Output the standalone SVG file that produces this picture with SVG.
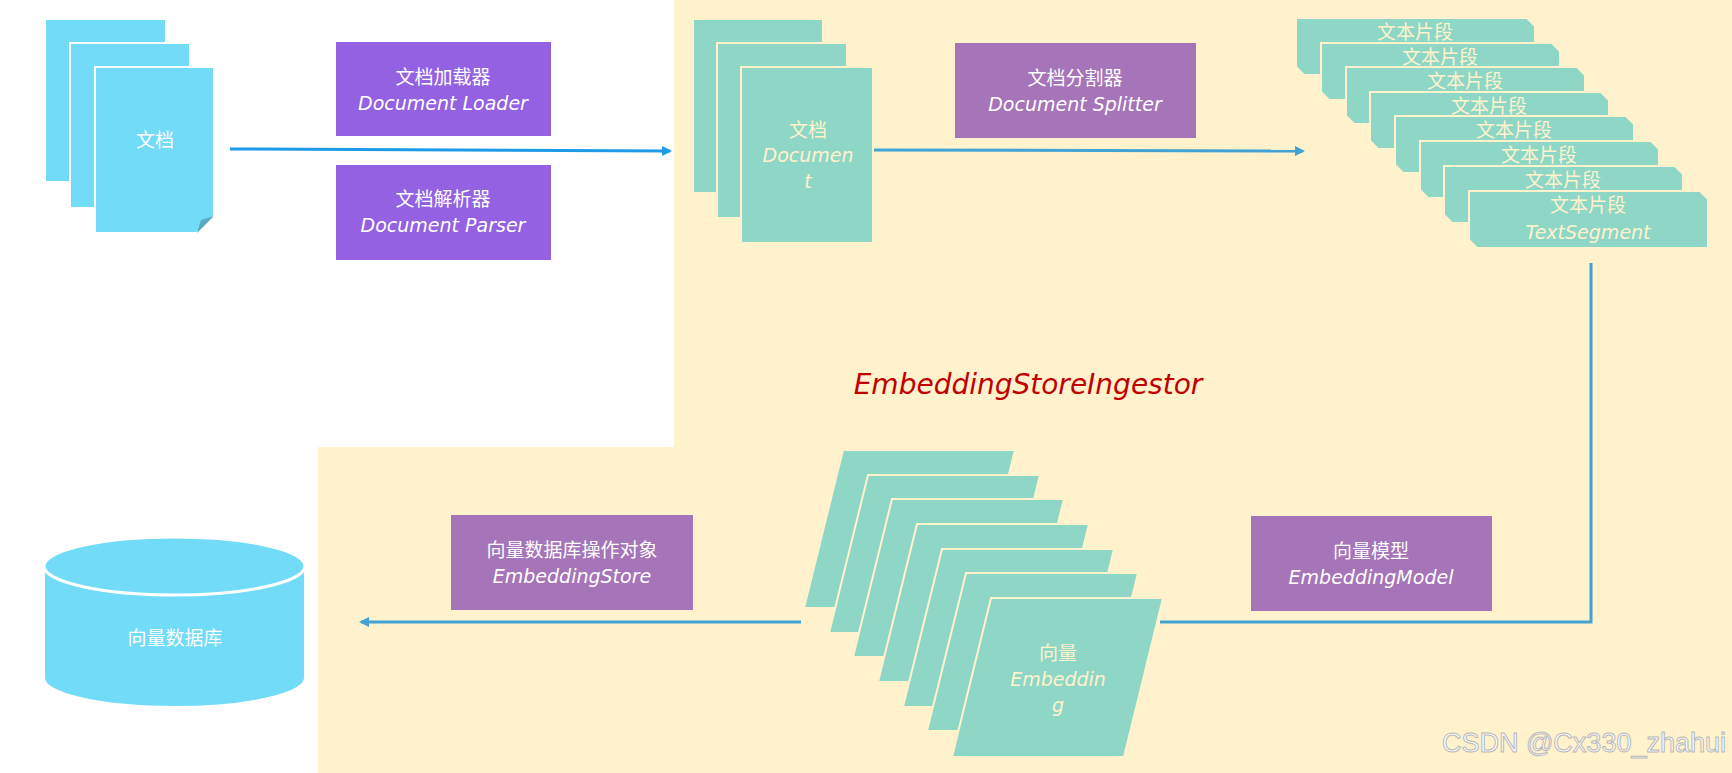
<svg xmlns="http://www.w3.org/2000/svg" width="1732" height="773" viewBox="0 0 1732 773">
<style>
.cy{fill:#72DBF8}
.tl{fill:#8ED7C7;stroke:#FFF2CC;stroke-width:2}
.pu{fill:#9461E3}
.mv{fill:#A674B8}
.zh{font-family:"Noto Sans CJK SC",sans-serif;font-size:19px;text-anchor:middle}
.en{font-family:"DejaVu Sans",sans-serif;font-style:italic;font-size:19px;text-anchor:middle}
.w{fill:#FFFFFF}
.c{fill:#FFF2CC}
.ln{stroke:#41A3D3;stroke-width:3;fill:none}
</style>
<defs>
<marker id="ah" markerWidth="10" markerHeight="10" refX="8" refY="5" orient="auto" markerUnits="userSpaceOnUse">
<path d="M0,0 L10,5 L0,10 z" fill="#41A3D3"/>
</marker>
<marker id="ah2" markerWidth="10" markerHeight="10" refX="8" refY="5" orient="auto" markerUnits="userSpaceOnUse">
<path d="M0,0 L10,5 L0,10 z" fill="#1E9BE8"/>
</marker>
</defs>
<rect width="1732" height="773" fill="#FFFFFF"/>
<path d="M674,0 H1732 V773 H318 V447 H674 Z" fill="#FFF2CC"/>

<g id="connectors">
<line x1="230" y1="149" x2="670" y2="151" stroke="#1E9BE8" stroke-width="3" marker-end="url(#ah2)"/>
<line class="ln" x1="873" y1="150" x2="1303" y2="151" marker-end="url(#ah)"/>
<polyline class="ln" points="1591,263 1591,622 1160,622"/>
<line class="ln" x1="801" y1="622" x2="361" y2="622" marker-end="url(#ah)"/>
</g>

<g id="doc">
<rect class="cy" x="45" y="19" width="121" height="163" stroke="#FFFFFF" stroke-width="2"/>
<rect class="cy" x="70" y="43" width="120" height="165" stroke="#FFFFFF" stroke-width="2"/>
<path class="cy" d="M95,67 H214 V216 L197,233 H95 Z" stroke="#FFFFFF" stroke-width="2"/>
<path d="M214,216 L201,220 L197,233 Z" fill="#5BA8C4"/>
<text class="zh w" x="155" y="147">文档</text>
</g>

<g id="loader">
<rect class="pu" x="336" y="42" width="215" height="94"/>
<text class="zh w" x="443" y="84">文档加载器</text>
<text class="en w" x="443" y="110">Document Loader</text>
</g>
<g id="parser">
<rect class="pu" x="336" y="165" width="215" height="95"/>
<text class="zh w" x="443" y="206">文档解析器</text>
<text class="en w" x="443" y="232">Document Parser</text>
</g>

<g id="document">
<rect class="tl" x="693" y="19" width="130" height="174"/>
<rect class="tl" x="717" y="43" width="130" height="175"/>
<rect class="tl" x="741" y="67" width="132" height="176"/>
<text class="zh c" x="808" y="137">文档</text>
<text class="en c" x="808" y="162">Documen</text>
<text class="en c" x="808" y="188">t</text>
</g>

<g id="splitter">
<rect class="mv" x="955" y="43" width="241" height="95"/>
<text class="zh w" x="1075" y="85">文档分割器</text>
<text class="en w" x="1075" y="111">Document Splitter</text>
</g>

<g id="segments">
<path class="tl" d="M1296,18 H1527 L1535,26 V75 H1304 L1296,67 Z"/>
<text class="zh c" x="1415" y="39">文本片段</text>
<path class="tl" d="M1321,43 H1552 L1560,51 V100 H1329 L1321,92 Z"/>
<text class="zh c" x="1440" y="64">文本片段</text>
<path class="tl" d="M1346,67 H1577 L1585,75 V124 H1354 L1346,116 Z"/>
<text class="zh c" x="1465" y="88">文本片段</text>
<path class="tl" d="M1370,92 H1601 L1609,100 V149 H1378 L1370,141 Z"/>
<text class="zh c" x="1489" y="113">文本片段</text>
<path class="tl" d="M1395,116 H1626 L1634,124 V173 H1403 L1395,165 Z"/>
<text class="zh c" x="1514" y="137">文本片段</text>
<path class="tl" d="M1420,141 H1651 L1659,149 V198 H1428 L1420,190 Z"/>
<text class="zh c" x="1539" y="162">文本片段</text>
<path class="tl" d="M1444,166 H1675 L1683,174 V223 H1452 L1444,215 Z"/>
<text class="zh c" x="1563" y="187">文本片段</text>
<path class="tl" d="M1469,191 H1700 L1708,199 V248 H1477 L1469,240 Z"/>
<text class="zh c" x="1588" y="212">文本片段</text>
<text class="en c" x="1588" y="239">TextSegment</text>
</g>

<text x="1028" y="394" font-family="DejaVu Sans,sans-serif" font-style="italic" font-size="28" fill="#C00000" text-anchor="middle">EmbeddingStoreIngestor</text>

<g id="embedding">
<path class="tl" d="M843,450 H1015 L976,608 H804 Z"/>
<path class="tl" d="M868,475 H1040 L1001,633 H829 Z"/>
<path class="tl" d="M892,499 H1064 L1025,657 H853 Z"/>
<path class="tl" d="M917,524 H1089 L1050,682 H878 Z"/>
<path class="tl" d="M942,549 H1114 L1075,707 H903 Z"/>
<path class="tl" d="M966,573 H1138 L1099,731 H927 Z"/>
<path class="tl" d="M991,598 H1163 L1124,757 H952 Z"/>
<text class="zh c" x="1058" y="660">向量</text>
<text class="en c" x="1058" y="686">Embeddin</text>
<text class="en c" x="1058" y="712">g</text>
</g>

<g id="model">
<rect class="mv" x="1251" y="516" width="241" height="95"/>
<text class="zh w" x="1371" y="558">向量模型</text>
<text class="en w" x="1371" y="584">EmbeddingModel</text>
</g>

<g id="store">
<rect class="mv" x="451" y="515" width="242" height="95"/>
<text class="zh w" x="572" y="557">向量数据库操作对象</text>
<text class="en w" x="572" y="583">EmbeddingStore</text>
</g>

<g id="db">
<path class="cy" d="M44,566 V678 A130.5,29 0 0 0 305,678 V566 Z" stroke="#FFFFFF" stroke-width="2"/>
<ellipse class="cy" cx="174.5" cy="566" rx="130.5" ry="29" stroke="#FFFFFF" stroke-width="3"/>
<text class="zh w" x="175" y="645">向量数据库</text>
</g>

<text x="1726" y="752" font-family="Liberation Sans,sans-serif" font-size="27" fill="#FFFFFF" stroke="#B8B8B8" stroke-width="1" text-anchor="end">CSDN @Cx330_zhahui</text>
</svg>
